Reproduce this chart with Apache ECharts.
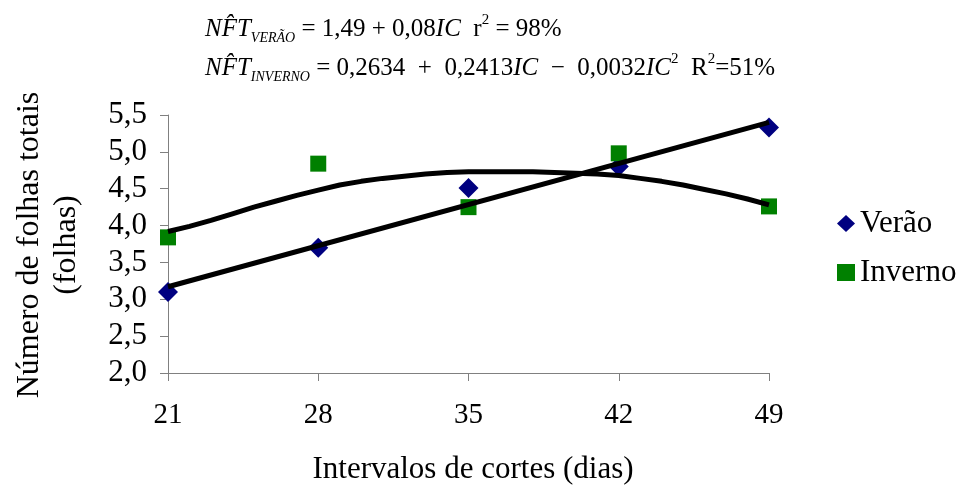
<!DOCTYPE html>
<html><head><meta charset="utf-8">
<script src="https://cdn.jsdelivr.net/npm/echarts@6/dist/echarts.min.js"></script>
<style>html,body{margin:0;padding:0;background:#fff}#c{width:964px;height:488px}</style>
</head><body><div id="c"></div>
<script>
// Observed data
const days = [21, 28, 35, 42, 49];
const veraoObs = [3.10, 3.70, 4.51, 4.80, 5.33];
const invernoObs = [3.84, 4.84, 4.25, 4.98, 4.26];
// Fitted lines
const veraoFitX = [21, 49];
const veraoFitY = [3.17, 5.40];
const invernoFitX = [21,22,23,24,25,26,27,28,29,30,31,32,33,34,35,36,37,38,39,40,41,42,43,44,45,46,47,48,49];
const invernoFitY = [3.92,3.99,4.07,4.16,4.25,4.33,4.41,4.48,4.55,4.60,4.64,4.67,4.70,4.72,4.73,4.73,4.73,4.73,4.72,4.71,4.70,4.68,4.64,4.60,4.55,4.49,4.43,4.36,4.28];
const yTicks = ['2,0','2,5','3,0','3,5','4,0','4,5','5,0','5,5'];

const F = 'Liberation Serif, Times New Roman, serif';
const zip = (a, b) => a.map((v, i) => [v, b[i]]);

const chart = echarts.init(document.getElementById('c'));
const richBase = {
  n: {fontFamily: F, fontSize: 25, lineHeight: 32, color: '#000'},
  i: {fontFamily: F, fontSize: 25, lineHeight: 32, fontStyle: 'italic', color: '#000'},
  sub: {fontFamily: F, fontSize: 14, lineHeight: 13, fontStyle: 'italic', verticalAlign: 'bottom', color: '#000'},
  sup: {fontFamily: F, fontSize: 15, lineHeight: 17, verticalAlign: 'top', color: '#000'}
};
chart.setOption({
  animation: false,
  backgroundColor: '#fff',
  grid: {left: 168, right: 195, top: 115, bottom: 115},
  xAxis: {
    type: 'value', min: 21, max: 49, interval: 7,
    axisLine: {show: true, lineStyle: {color: '#808080', width: 1}},
    axisTick: {show: true, length: 8, lineStyle: {color: '#808080'}},
    splitLine: {show: false},
    axisLabel: {fontFamily: F, fontSize: 29, color: '#000', margin: 28}
  },
  yAxis: {
    type: 'value', min: 2, max: 5.5, interval: 0.5,
    axisLine: {show: true, lineStyle: {color: '#808080', width: 1}},
    axisTick: {show: true, length: 8, lineStyle: {color: '#808080'}},
    splitLine: {show: false},
    axisLabel: {fontFamily: F, fontSize: 31, color: '#000', margin: 21,
      formatter: v => yTicks[Math.round((v - 2) / 0.5)]}
  },
  legend: {
    orient: 'vertical', left: 832, top: 203, itemGap: 18,
    itemWidth: 18, itemHeight: 17,
    textStyle: {fontFamily: F, fontSize: 31, color: '#000'},
    data: ['Verão', 'Inverno']
  },
  graphic: [
    {type: 'text', x: 30, y: 245, rotation: Math.PI / 2,
      style: {text: 'Número de folhas totais', fontFamily: F, fontSize: 32,
        fill: '#000', align: 'center', verticalAlign: 'middle'}},
    {type: 'text', x: 67, y: 245, rotation: Math.PI / 2,
      style: {text: '(folhas)', fontFamily: F, fontSize: 32,
        fill: '#000', align: 'center', verticalAlign: 'middle'}},
    {type: 'text', x: 473, y: 470,
      style: {text: 'Intervalos de cortes (dias)', fontFamily: F, fontSize: 31,
        fill: '#000', align: 'center', verticalAlign: 'middle'}},
    {type: 'text', x: 205, y: 13,
      style: {rich: richBase, text: '{i|NF̂T}{sub|VERÃO}{n| = 1,49 + 0,08}{i|IC}{n|  r}{sup|2}{n| = 98%}'}},
    {type: 'text', x: 205, y: 52,
      style: {rich: richBase, text: '{i|NF̂T}{sub|INVERNO}{n| = 0,2634\u2002+\u20020,2413}{i|IC}{n|\u2002−\u20020,0032}{i|IC}{sup|2}{n|  R}{sup|2}{n|=51%}'}}
  ],
  series: [
    {name: 'Verão', type: 'scatter', data: zip(days, veraoObs), symbol: 'diamond', symbolSize: 20,
      itemStyle: {color: '#000080', opacity: 1}, z: 2},
    {name: 'Inverno', type: 'scatter', data: zip(days, invernoObs), symbol: 'rect', symbolSize: 16,
      itemStyle: {color: '#008000', opacity: 1}, z: 2},
    {name: 'fitV', type: 'line', data: zip(veraoFitX, veraoFitY), showSymbol: false, symbol: 'none',
      lineStyle: {color: '#000', width: 5}, z: 3},
    {name: 'fitI', type: 'line', data: zip(invernoFitX, invernoFitY), showSymbol: false, symbol: 'none',
      lineStyle: {color: '#000', width: 5}, z: 3}
  ]
});
</script></body></html>
